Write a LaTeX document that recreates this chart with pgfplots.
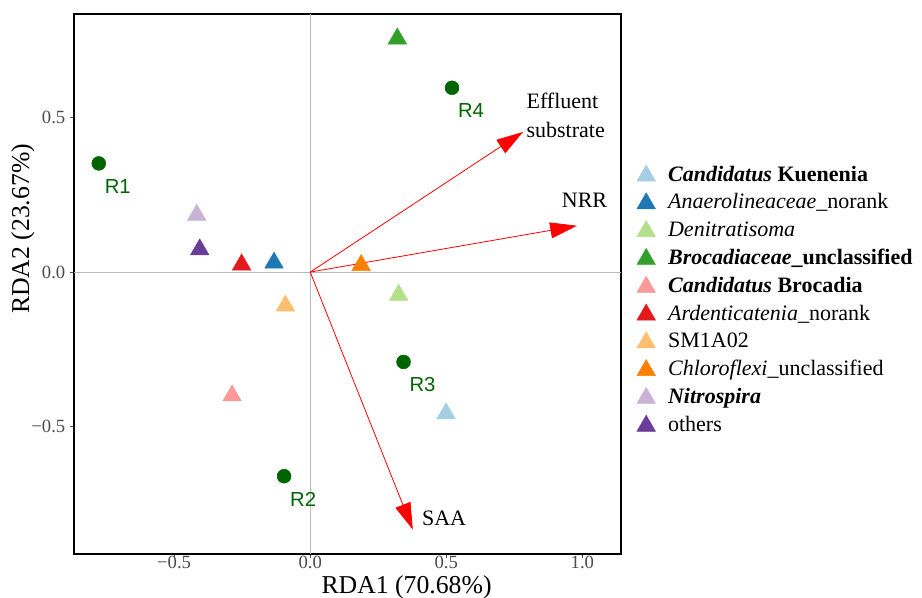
\documentclass[border=0pt]{standalone}
\usepackage{pgfplots}
\pgfplotsset{compat=1.18}
\usepackage{fontspec}
\setmainfont{Liberation Serif}
\newfontfamily\arialfont{Liberation Sans}
\usetikzlibrary{arrows.meta}
\definecolor{cKue}{HTML}{A6CEE3}
\definecolor{cAna}{HTML}{1F78B4}
\definecolor{cDen}{HTML}{B2DF8A}
\definecolor{cBrf}{HTML}{33A02C}
\definecolor{cBro}{HTML}{FB9A99}
\definecolor{cArd}{HTML}{E31A1C}
\definecolor{cSM}{HTML}{FDBF6F}
\definecolor{cChl}{HTML}{FF7F00}
\definecolor{cNit}{HTML}{CAB2D6}
\definecolor{cOth}{HTML}{6A3D9A}
\definecolor{sampgreen}{HTML}{006400}
\pgfplotstableread{
x y label
-0.777 0.352 R1
-0.096 -0.661 R2
0.343 -0.291 R3
0.521 0.597 R4
}\samples
\begin{document}
\begin{tikzpicture}
\path[use as bounding box] (-55.5pt,-33pt) rectangle (636pt,415.5pt);
\begin{axis}[
  at={(0pt,0pt)}, anchor=south west,
  scale only axis, width=410.25pt, height=405pt,
  xmin=-0.868, xmax=1.142, ymin=-0.913, ymax=0.836,
  axis line style={black, line width=1.1pt},
  xtick={-0.5,0,0.5,1}, xticklabels={−0.5,0.0,0.5,1.0},
  ytick={-0.5,0,0.5}, yticklabels={−0.5,0.0,0.5},
  tick align=outside, major tick length=3pt,
  tick style={color=black!70, line width=0.6pt},
  tick pos=left,
  tick label style={font=\fontsize{14}{16}\selectfont, text=black!70},
  xticklabel style={inner sep=0pt, yshift=1.5pt},
  xlabel={RDA1 (70.68\%)}, ylabel={RDA2 (23.67\%)},
  label style={font=\fontsize{19.3}{22}\selectfont},
  xlabel style={at={(axis description cs:0.608,-0.0615)}, anchor=center, inner sep=0pt},
  ylabel style={at={(axis description cs:-0.0932,0.602)}, anchor=center},
  clip=false,
  legend cell align=left,
  legend style={draw=none, fill=none, inner sep=0pt,
    at={(axis description cs:1.0287,0.4694)}, anchor=west,
    font=\fontsize{16.5}{18}\selectfont,
    nodes={inner ysep=0pt, inner xsep=9.5pt, text height=11.5pt, text depth=3.5pt},
    row sep=5.35pt},
]
% zero lines
\addplot[color=gray!55, line width=0.6pt, forget plot] coordinates {(-0.868,0) (1.142,0)};
\addplot[color=gray!55, line width=0.6pt, forget plot] coordinates {(0,-0.913) (0,0.836)};
% environmental arrows
\addplot[red, line width=0.6pt, -{Triangle[length=20pt,width=12pt]}, forget plot] coordinates {(0,0) (0.782,0.454)};
\addplot[red, line width=0.6pt, -{Triangle[length=20pt,width=12pt]}, forget plot] coordinates {(0,0) (0.980,0.150)};
\addplot[red, line width=0.6pt, -{Triangle[length=20pt,width=12pt]}, forget plot] coordinates {(0,0) (0.377,-0.834)};
\node[anchor=west, align=left, inner sep=0pt, font=\fontsize{16.5}{21.75}\selectfont] at (axis cs:0.794,0.507) {Effluent\\substrate};
\node[anchor=center, inner sep=0pt, font=\fontsize{16.5}{18}\selectfont] at (axis cs:1.008,0.233) {NRR};
\node[anchor=center, inner sep=0pt, font=\fontsize{16.5}{18}\selectfont] at (axis cs:0.492,-0.796) {SAA};
% samples
\addplot[only marks, mark=*, mark size=5.2pt, color=sampgreen, forget plot,
  nodes near coords, point meta=explicit symbolic,
  every node near coord/.style={font=\arialfont\fontsize{15.2}{17}\selectfont, text=sampgreen, anchor=center, inner sep=0pt, xshift=14.25pt, yshift=-17.25pt}]
  table[x=x, y=y, meta=label] {\samples};
% species
\addplot[only marks, mark=triangle*, mark size=8pt, color=cKue] coordinates {(0.499,-0.458)};
\addlegendentry{\textbf{\textit{Candidatus} Kuenenia}}
\addplot[only marks, mark=triangle*, mark size=8pt, color=cAna] coordinates {(-0.133,0.030)};
\addlegendentry{\textit{Anaerolineaceae}\_norank}
\addplot[only marks, mark=triangle*, mark size=8pt, color=cDen] coordinates {(0.325,-0.074)};
\addlegendentry{\textit{Denitratisoma}}
\addplot[only marks, mark=triangle*, mark size=8pt, color=cBrf] coordinates {(0.320,0.756)};
\addlegendentry{\textbf{\textit{Brocadiaceae}\_unclassified}}
\addplot[only marks, mark=triangle*, mark size=8pt, color=cBro] coordinates {(-0.287,-0.400)};
\addlegendentry{\textbf{\textit{Candidatus} Brocadia}}
\addplot[only marks, mark=triangle*, mark size=8pt, color=cArd] coordinates {(-0.252,0.024)};
\addlegendentry{\textit{Ardenticatenia}\_norank}
\addplot[only marks, mark=triangle*, mark size=8pt, color=cSM] coordinates {(-0.091,-0.109)};
\addlegendentry{SM1A02}
\addplot[only marks, mark=triangle*, mark size=8pt, color=cChl] coordinates {(0.187,0.022)};
\addlegendentry{\textit{Chloroflexi}\_unclassified}
\addplot[only marks, mark=triangle*, mark size=8pt, color=cNit] coordinates {(-0.417,0.185)};
\addlegendentry{\textbf{\textit{Nitrospira}}}
\addplot[only marks, mark=triangle*, mark size=8pt, color=cOth] coordinates {(-0.406,0.073)};
\addlegendentry{others}
\end{axis}
\end{tikzpicture}
\end{document}
